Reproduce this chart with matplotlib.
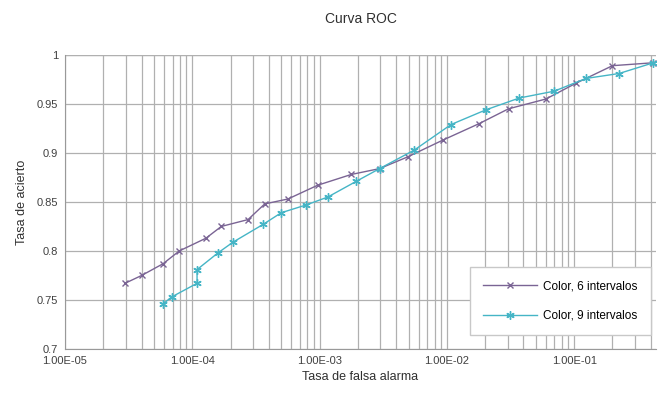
import matplotlib
matplotlib.use("Agg")
import matplotlib.pyplot as plt
from matplotlib.ticker import LogLocator, FuncFormatter, MultipleLocator

plt.rcParams['font.family'] = ['Liberation Sans', 'DejaVu Sans']

# datos
fa_6 = [2.96e-5, 4.0e-5, 5.9e-5, 7.9e-5, 1.28e-4, 1.69e-4, 2.74e-4, 3.71e-4,
        5.64e-4, 9.64e-4, 1.77e-3, 2.96e-3, 4.93e-3, 9.27e-3, 1.80e-2, 3.05e-2,
        6.0e-2, 0.103, 0.200, 0.42]
ac_6 = [0.767, 0.775, 0.787, 0.800, 0.813, 0.825, 0.832, 0.848,
        0.853, 0.867, 0.878, 0.884, 0.896, 0.913, 0.930, 0.945,
        0.955, 0.971, 0.989, 0.992]

fa_9 = [5.9e-5, 6.87e-5, 1.09e-4, 1.09e-4, 1.59e-4, 2.09e-4, 3.59e-4, 5.0e-4,
        7.87e-4, 1.16e-3, 1.94e-3, 2.96e-3, 5.56e-3, 1.08e-2, 2.03e-2, 3.70e-2,
        6.97e-2, 0.124, 0.225, 0.42]
ac_9 = [0.746, 0.753, 0.767, 0.781, 0.798, 0.809, 0.827, 0.839,
        0.847, 0.855, 0.871, 0.884, 0.903, 0.929, 0.944, 0.956,
        0.963, 0.976, 0.981, 0.992]

etiquetas = ["Color, 6 intervalos", "Color, 9 intervalos"]

fig = plt.figure(figsize=(6.6, 3.95), dpi=100)
ax = fig.add_axes([0.0985, 0.1165, 0.8955, 0.7445])

ax.plot(fa_6, ac_6, color='#7a6494', lw=1.0, marker='x', ms=4.5, mew=1.0,
        label=etiquetas[0])
ax.plot(fa_9, ac_9, color='#45b5c6', lw=1.0, marker=(6, 2, 0), ms=6, mew=1.0,
        label=etiquetas[1])

ax.set_xscale('log')
ax.set_xlim(1e-5, 0.44)
ax.set_ylim(0.7, 1.0)

ax.xaxis.set_major_locator(LogLocator(base=10, numticks=10))
ax.xaxis.set_minor_locator(LogLocator(base=10, subs=range(2, 10), numticks=20))
ax.xaxis.set_major_formatter(FuncFormatter(lambda v, p: f"{v:.2E}"))
ax.yaxis.set_major_locator(MultipleLocator(0.05))
ax.yaxis.set_major_formatter(FuncFormatter(lambda v, p: f"{v:g}"))

ax.grid(True, which='major', color='#b0b0b0', lw=0.9)
ax.grid(True, which='minor', axis='x', color='#b0b0b0', lw=0.9)
ax.axhline(1.0, color='#b0b0b0', lw=0.9, zorder=0)
ax.set_axisbelow(True)

for s in ['top', 'right']:
    ax.spines[s].set_visible(False)
for s in ['left', 'bottom']:
    ax.spines[s].set_color('#999999')

ax.tick_params(which='both', length=0, labelsize=8, colors='#404040', pad=5)

ax.set_title('Curva ROC', fontsize=10, color='#303030', pad=23)
ax.set_xlabel('Tasa de falsa alarma', fontsize=9, color='#303030', labelpad=4)
ax.set_ylabel('Tasa de acierto', fontsize=9, color='#303030', labelpad=6)

leg = ax.legend(loc='lower right', bbox_to_anchor=(0.995, 0.04), fontsize=8.5,
                fancybox=False, framealpha=1, edgecolor='#c8c8c8',
                borderpad=1.1, labelspacing=1.5, handlelength=4.6,
                handletextpad=0.5, borderaxespad=0.2)

fig.savefig('out.png', dpi=100)
